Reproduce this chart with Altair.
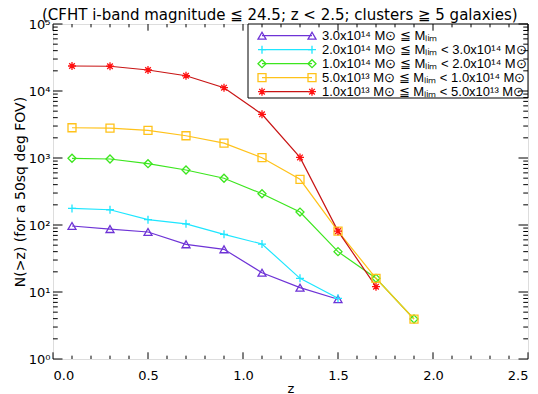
import altair as alt
import pandas as pd

# ---------------- data ----------------
z_vals = [0.1, 0.3, 0.5, 0.7, 0.9, 1.1, 1.3, 1.5, 1.7, 1.9]
n_m1 = [96.6, 87, 78.6, 51.5, 43.4, 19.4, 11.6, 7.8]                         # 3.0e14 <= M
n_m2 = [177, 169, 120, 104, 72.6, 52, 16, 8.05]                              # 2e14..3e14
n_m3 = [990, 966, 822, 662, 498, 293, 156, 40, 16, 3.95]                     # 1e14..2e14
n_m4 = [2830, 2800, 2590, 2150, 1670, 1010, 481, 81, 16, 3.95]               # 5e13..1e14
n_m5 = [23600, 23400, 20600, 16900, 11200, 4490, 1020, 81, 12]               # 1e13..5e13

series_keys = ["m1", "m2", "m3", "m4", "m5"]
series_labels = [
    "3.0x10\u00b9\u2074 M\u2299 \u2266 M\u2097\u1d62\u2098",
    "2.0x10\u00b9\u2074 M\u2299 \u2266 M\u2097\u1d62\u2098 < 3.0x10\u00b9\u2074 M\u2299",
    "1.0x10\u00b9\u2074 M\u2299 \u2266 M\u2097\u1d62\u2098 < 2.0x10\u00b9\u2074 M\u2299",
    "5.0x10\u00b9\u00b3 M\u2299 \u2266 M\u2097\u1d62\u2098 < 1.0x10\u00b9\u2074 M\u2299",
    "1.0x10\u00b9\u00b3 M\u2299 \u2266 M\u2097\u1d62\u2098 < 5.0x10\u00b9\u00b3 M\u2299",
]
line_colors = ["#6E33D6", "#1EE6FF", "#3CE61E", "#FFC21A", "#C81414"]
marker_colors = ["#6E33D6", "#1EE6FF", "#3CE61E", "#FFC21A", "#FF1010"]
marker_shapes = [
    "triangle-up",
    "M-1,0H1M0,-1V1",
    "diamond",
    "square",
    "M-1,0H1M0,-1V1M-0.7,-0.7L0.7,0.7M-0.7,0.7L0.7,-0.7",
]
marker_sizes = [64, 64, 45, 64, 64]
marker_widths = [1.3, 1.3, 1.3, 1.3, 2.0]

x_major = [0.0, 0.5, 1.0, 1.5, 2.0, 2.5]
y_major = [1, 10, 100, 1000, 10000, 100000]

subtitle = "(CFHT i-band magnitude \u2266 24.5; z < 2.5; clusters \u2267 5 galaxies)"
x_title = "z"
y_title = "N(>z) (for a 50sq deg FOV)"

FONT = "Liberation Sans"
AFONT = "DejaVu Sans"
W, H = 475, 335

# ---------------- tables ----------------
all_series = [n_m1, n_m2, n_m3, n_m4, n_m5]
rows = []
for k, vals in zip(series_keys, all_series):
    for z, n in zip(z_vals, vals):
        rows.append({"series": k, "z": z, "n": n})
df = pd.DataFrame(rows)

xs = alt.Scale(domain=[0, 2.5], nice=False, zero=False)
ys = alt.Scale(type="log", domain=[1, 100000], nice=False)
col_scale = alt.Scale(domain=series_keys, range=line_colors)
stroke_scale = alt.Scale(domain=series_keys, range=marker_colors)
shape_scale = alt.Scale(domain=series_keys, range=marker_shapes)
size_scale = alt.Scale(domain=series_keys, range=marker_sizes)
sw_scale = alt.Scale(domain=series_keys, range=marker_widths)

sup = "['\u2070','\u00b9','\u00b2','\u00b3','\u2074','\u2075']"

x_axis = alt.Axis(values=x_major, format=".1f", ticks=False, domain=False, grid=False,
                  labelFont=AFONT, labelFontSize=13, labelPadding=10, labelColor="black",
                  titleFont=AFONT, titleFontSize=13, titleFontWeight="normal",
                  titleColor="black", titleX=W / 2, titleY=33, titleBaseline="alphabetic")
y_axis = alt.Axis(values=y_major, ticks=False, domain=False, grid=False,
                  labelExpr="'10' + " + sup + "[round(log(datum.value)/LN10)]",
                  labelFont=AFONT, labelFontSize=13, labelPadding=3, labelColor="black",
                  titleFont=AFONT, titleFontSize=14, titleFontWeight="normal",
                  titleColor="black", titleX=-26, titleY=H / 2, titleBaseline="bottom",
                  titleAlign="center", titleAngle=270)


def X(field):
    return alt.X(field, scale=xs, title=x_title, axis=x_axis)


def Y(field):
    return alt.Y(field, scale=ys, title=y_title, axis=y_axis)


lines = alt.Chart(df).mark_line(strokeWidth=1.2).encode(
    x=X("z:Q"), y=Y("n:Q"),
    color=alt.Color("series:N", scale=col_scale, legend=None),
    detail="series:N",
)

points = alt.Chart(df).mark_point(filled=False, opacity=1).encode(
    x=X("z:Q"), y=Y("n:Q"),
    stroke=alt.Stroke("series:N", scale=stroke_scale, legend=None),
    shape=alt.Shape("series:N", scale=shape_scale, legend=None),
    size=alt.Size("series:N", scale=size_scale, legend=None),
    strokeWidth=alt.StrokeWidth("series:N", scale=sw_scale, legend=None),
)

# ---------------- legend ----------------
leg_rows = []
for i, (k, lab) in enumerate(zip(series_keys, series_labels)):
    leg_rows.append({"series": k, "label": lab, "ly": 11.7 + 14 * i, "lx0": 209, "lx1": 259})
leg_df = pd.DataFrame(leg_rows)
leg_pts = pd.concat([leg_df.assign(px=leg_df["lx0"]), leg_df.assign(px=leg_df["lx1"])])

box = alt.Chart(pd.DataFrame({"a": [0]})).mark_rect(
    fill="white", stroke="black", strokeWidth=1
).encode(x=alt.value(195), x2=alt.value(W), y=alt.value(0), y2=alt.value(74))

leg_lines = alt.Chart(leg_df).mark_rule(strokeWidth=1.2).encode(
    x=alt.X("lx0:Q", scale=None), x2="lx1:Q",
    y=alt.Y("ly:Q", scale=None),
    color=alt.Color("series:N", scale=col_scale, legend=None),
)
leg_marks = alt.Chart(leg_pts).mark_point(filled=False, opacity=1).encode(
    x=alt.X("px:Q", scale=None),
    y=alt.Y("ly:Q", scale=None),
    stroke=alt.Stroke("series:N", scale=stroke_scale, legend=None),
    shape=alt.Shape("series:N", scale=shape_scale, legend=None),
    size=alt.Size("series:N", scale=size_scale, legend=None),
    strokeWidth=alt.StrokeWidth("series:N", scale=sw_scale, legend=None),
)
leg_text = alt.Chart(leg_df).mark_text(
    align="left", baseline="middle", font=FONT, fontSize=13, color="black"
).encode(x=alt.value(269), y=alt.Y("ly:Q", scale=None), text="label:N")

# ---------------- ticks (inward, IDL style) ----------------
yt = []
for e in range(6):
    yt.append({"v": 10 ** e, "len": 9.5})
    if e < 5:
        for m in range(2, 10):
            yt.append({"v": m * 10 ** e, "len": 4.75})
ytdf = pd.DataFrame(yt)
ytdf["l0"] = 0.0
ytdf["r0"] = W - ytdf["len"]
ytdf["r1"] = float(W)

xt = []
for i in range(26):
    v = round(i * 0.1, 2)
    xt.append({"v": v, "len": 6.7 if i % 5 == 0 else 3.35})
xtdf = pd.DataFrame(xt)
xtdf["b0"] = float(H)
xtdf["b1"] = H - xtdf["len"]
xtdf["t0"] = 0.0

tick_style = dict(color="black", strokeWidth=1)
ytl = alt.Chart(ytdf).mark_rule(**tick_style).encode(
    y=Y("v:Q"), x=alt.X("l0:Q", scale=None), x2="len:Q")
ytr = alt.Chart(ytdf).mark_rule(**tick_style).encode(
    y=Y("v:Q"), x=alt.X("r0:Q", scale=None), x2="r1:Q")
xtb = alt.Chart(xtdf).mark_rule(**tick_style).encode(
    x=X("v:Q"), y=alt.Y("b0:Q", scale=None), y2="b1:Q")
xtt = alt.Chart(xtdf).mark_rule(**tick_style).encode(
    x=X("v:Q"), y=alt.Y("t0:Q", scale=None), y2="len:Q")

title_txt = alt.Chart(pd.DataFrame({"t": [subtitle]})).mark_text(
    align="left", baseline="alphabetic", font="DejaVu Sans", fontSize=15, color="black"
).encode(x=alt.value(-11), y=alt.value(-4.5), text="t:N")

chart = alt.layer(
    lines, points, box, leg_lines, leg_marks, leg_text, ytl, ytr, xtb, xtt, title_txt
).properties(
    width=W, height=H,
    autosize=alt.AutoSizeParams(type="none"),
    padding={"left": 45, "top": 16, "right": 2, "bottom": 35},
).configure_view(stroke="black", strokeWidth=1).configure(background="white")

chart.save("out.html", embed_options={"renderer": "svg", "actions": False})
